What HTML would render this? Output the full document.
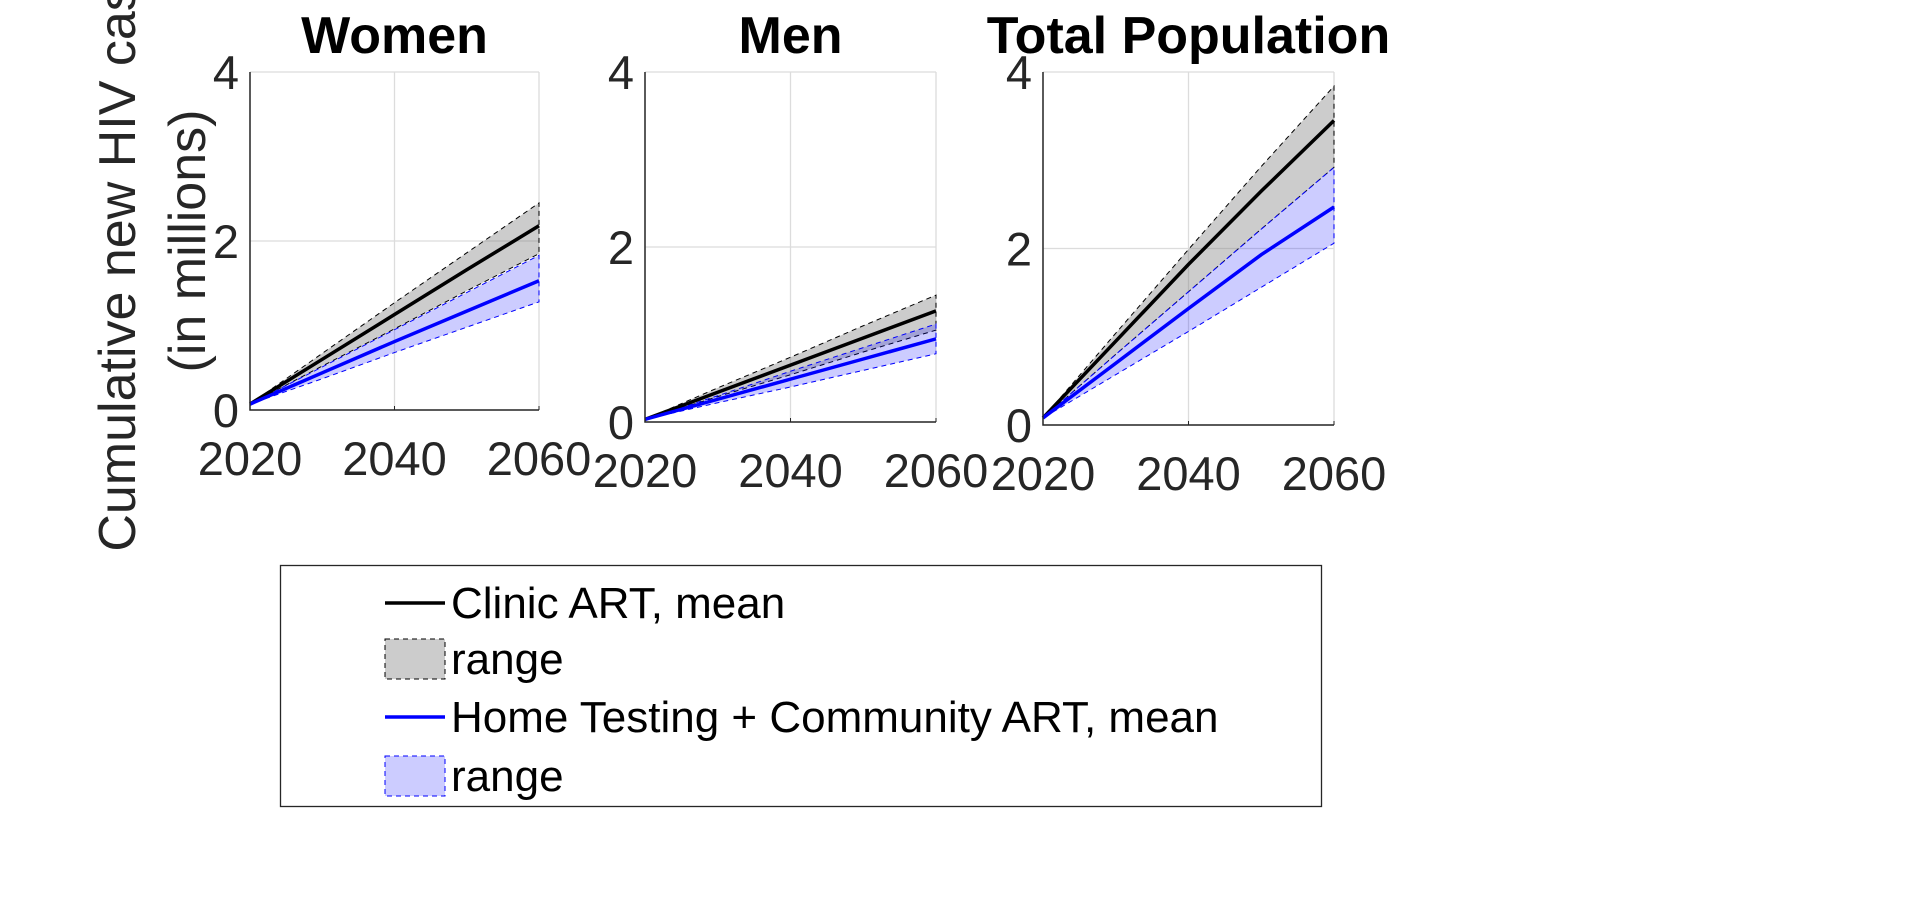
<!DOCTYPE html>
<html><head><meta charset="utf-8"><style>
html,body{margin:0;padding:0;background:#fff;width:1920px;height:911px;overflow:hidden}
svg{display:block}
text{font-family:"Liberation Sans",Arial,sans-serif}
</style></head><body>
<svg id="chart" width="1920" height="911" xmlns="http://www.w3.org/2000/svg"></svg>
<script>
const years = [2020, 2030, 2040, 2050, 2060];
const panelTitles = ["Women", "Men", "Total Population"];
const xTicks = [2020, 2040, 2060];
const yTicks = [0, 2, 4];
// Women
const womenClinicMean = [0.07, 0.6, 1.13, 1.66, 2.18];
const womenClinicHi = [0.07, 0.67, 1.27, 1.86, 2.45];
const womenClinicLo = [0.07, 0.52, 0.96, 1.41, 1.85];
const womenHomeMean = [0.07, 0.44, 0.81, 1.17, 1.53];
const womenHomeHi = [0.07, 0.51, 0.95, 1.39, 1.83];
const womenHomeLo = [0.07, 0.37, 0.68, 0.98, 1.28];
// Men
const menClinicMean = [0.03, 0.34, 0.65, 0.96, 1.27];
const menClinicHi = [0.03, 0.39, 0.74, 1.1, 1.45];
const menClinicLo = [0.03, 0.29, 0.54, 0.8, 1.05];
const menHomeMean = [0.03, 0.26, 0.49, 0.72, 0.95];
const menHomeHi = [0.03, 0.3, 0.58, 0.85, 1.12];
const menHomeLo = [0.03, 0.22, 0.4, 0.59, 0.78];
// Total
const totClinicMean = [0.08, 0.95, 1.82, 2.65, 3.45];
const totClinicHi = [0.08, 1.04, 1.99, 2.93, 3.84];
const totClinicLo = [0.08, 0.8, 1.51, 2.22, 2.92];
const totHomeMean = [0.08, 0.7, 1.32, 1.93, 2.47];
const totHomeHi = [0.08, 0.8, 1.51, 2.22, 2.92];
const totHomeLo = [0.08, 0.57, 1.06, 1.56, 2.06];

const panelData = [
  [womenClinicMean, womenClinicHi, womenClinicLo, womenHomeMean, womenHomeHi, womenHomeLo],
  [menClinicMean, menClinicHi, menClinicLo, menHomeMean, menHomeHi, menHomeLo],
  [totClinicMean, totClinicHi, totClinicLo, totHomeMean, totHomeHi, totHomeLo]
];
const boxes = [
  {l:250, r:539, t:72, b:410},
  {l:645, r:936, t:72, b:422},
  {l:1043, r:1334, t:72, b:425}
];
const NS = "http://www.w3.org/2000/svg";
const svg = document.getElementById("chart");
function mk(tag, attrs, parent, txt){
  const e = document.createElementNS(NS, tag);
  for (const k in attrs) e.setAttribute(k, attrs[k]);
  if (txt !== undefined) e.textContent = txt;
  (parent||svg).appendChild(e);
  return e;
}
const keys = ["women","men","total"];
boxes.forEach((bx, i) => {
  const g = mk("g", {});
  
  
  const xs = v => bx.l + (v - 2020) / 40 * (bx.r - bx.l);
  const ys = v => bx.b - v / 4 * (bx.b - bx.t);
  xTicks.forEach(t => { const gl = mk("line", {x1:xs(t), x2:xs(t), y1:bx.t, y2:bx.b, stroke:"#dcdcdc", "stroke-width":1.3}, g);
      });
  yTicks.forEach(t => { const gl = mk("line", {x1:bx.l, x2:bx.r, y1:ys(t), y2:ys(t), stroke:"#dcdcdc", "stroke-width":1.3}, g);
      });
  const d = panelData[i];
  const band = (hi, lo, fill, stroke, name) => {
    let p = years.map((y,j)=>xs(y)+","+ys(hi[j])).join(" ") + " " +
      years.slice().reverse().map((y,j)=>xs(y)+","+ys(lo[years.length-1-j])).join(" ");
    const el = mk("polygon", {points:p, fill:fill, stroke:stroke, "stroke-width":1, "stroke-dasharray":"5,4"}, g);
    
    
  };
  const line = (arr, color, name) => {
    const el = mk("polyline", {points: years.map((y,j)=>xs(y)+","+ys(arr[j])).join(" "), fill:"none", stroke:color, "stroke-width":3.5}, g);
    
    
  };
  band(d[1], d[2], "rgba(128,128,128,0.4)", "#000", "clinic-range-band");
  band(d[4], d[5], "rgba(0,0,255,0.2)", "#0000ff", "home-range-band");
  line(d[0], "#000", "clinic-mean-line");
  line(d[3], "#0000ff", "home-mean-line");
  const ax = mk("path", {d:`M${bx.l},${bx.t}V${bx.b}H${bx.r}`, fill:"none", stroke:"#262626", "stroke-width":1.5}, g);
   
  xTicks.forEach(t => {
    mk("line", {x1:xs(t), x2:xs(t), y1:bx.b, y2:bx.b-4, stroke:"#262626"}, g);
    const tl = mk("text", {x:xs(t), y:bx.b+65, "font-size":47, fill:"#262626", "text-anchor":"middle"}, g, t);
     
  });
  yTicks.forEach(t => {
    const tl = mk("text", {x:bx.l-11, y:ys(t)+17, "font-size":47, fill:"#262626", "text-anchor":"end"}, g, t);
     
  });
  const tt = mk("text", {x:(bx.l+bx.r)/2, y:53, "font-size":52, "font-weight":"bold", fill:"#000", "text-anchor":"middle"}, g, panelTitles[i]);
   
});
const yl = mk("text", {transform:"translate(135,241) rotate(-90)", "font-size":52, fill:"#262626", "text-anchor":"middle"});
 
mk("tspan", {x:0, dy:0}, yl, "Cumulative new HIV cases");
mk("tspan", {x:0, dy:70}, yl, "(in millions)");
const lg = mk("g", {});
 
mk("rect", {x:280.5, y:565.5, width:1041, height:241, fill:"#fff", stroke:"#262626", "stroke-width":1.3}, lg);
const legendLabels = ["Clinic ART, mean", "range", "Home Testing + Community ART, mean", "range"];
const rowsY = [603, 659, 717, 776];
const le1 = mk("line", {x1:385, x2:445, y1:rowsY[0], y2:rowsY[0], stroke:"#000", "stroke-width":3.5}, lg);
 
const le2 = mk("rect", {x:385, y:rowsY[1]-20, width:60, height:40, fill:"#cccccc", stroke:"#000", "stroke-dasharray":"5,4"}, lg);
 
const le3 = mk("line", {x1:385, x2:445, y1:rowsY[2], y2:rowsY[2], stroke:"#0000ff", "stroke-width":3.5}, lg);
 
const le4 = mk("rect", {x:385, y:rowsY[3]-20, width:60, height:40, fill:"#ccccff", stroke:"#0000ff", "stroke-dasharray":"5,4"}, lg);
 
legendLabels.forEach((s, j) => {
  const t = mk("text", {x:451, y:rowsY[j]+15, "font-size":44, fill:"#000"}, lg, s);
   
});
</script>
</body></html>
